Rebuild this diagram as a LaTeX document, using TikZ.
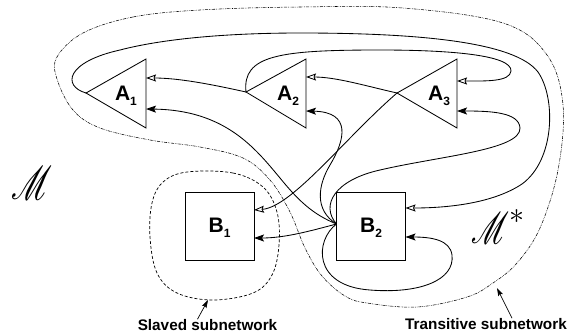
\documentclass[tikz,border=0pt]{standalone}
\usepackage{fontspec}
\setmainfont{Liberation Sans}
\usepackage{mathrsfs}
\usepackage{graphicx}
\usetikzlibrary{arrows.meta}
\begin{document}
\begin{tikzpicture}[x=1pt,y=-1pt,
  edge/.style={line width=0.85pt},
  hol/.style={edge,-{Stealth[open,length=10pt,width=7pt,inset=1.5pt]}},
  fil/.style={edge,-{Stealth[length=10pt,width=7pt,inset=2pt]}},
  shp/.style={line width=0.85pt},
  boxnode/.style={draw,line width=0.85pt,minimum width=69pt,minimum height=68pt,inner sep=0pt},
  lab/.style={font=\fontsize{21}{21}\selectfont\bfseries,inner sep=0pt},
  captext/.style={font=\fontsize{15.3}{16}\selectfont\bfseries,inner sep=0pt},
  transreg/.style={line width=0.55pt,dash pattern=on 3pt off 1pt on 0.6pt off 1pt on 0.6pt off 1pt},
  slavreg/.style={line width=0.7pt,dash pattern=on 3pt off 2pt}]
\useasboundingbox (0,0) rectangle (569,335);

% triangles
\coordinate (A1o) at (86,93);  \coordinate (A1t) at (146,59); \coordinate (A1b) at (146,128);
\coordinate (A2o) at (246,92); \coordinate (A2t) at (306,59); \coordinate (A2b) at (306,128);
\coordinate (A3o) at (397,93); \coordinate (A3t) at (457,59); \coordinate (A3b) at (457,128);
\draw[shp] (A1t) -- (A1o) -- (A1b) -- cycle;
\draw[shp] (A2t) -- (A2o) -- (A2b) -- cycle;
\draw[shp] (A3t) -- (A3o) -- (A3b) -- cycle;
\node[lab] (A1) at (126,96) {A\raisebox{-5pt}{\fontsize{12}{12}\selectfont 1}};
\node[lab] (A2) at (288,96) {A\raisebox{-5pt}{\fontsize{12}{12}\selectfont 2}};
\node[lab] (A3) at (439,96) {A\raisebox{-5pt}{\fontsize{12}{12}\selectfont 3}};
\coordinate (A1i1) at (146,78);  \coordinate (A1i2) at (146,109);
\coordinate (A2i1) at (306,77);  \coordinate (A2i2) at (306,111);
\coordinate (A3i1) at (457,81);  \coordinate (A3i2) at (457,111);

% boxes
\node[boxnode] (B1) at (219.5,226) {};
\node[boxnode] (B2) at (371,226) {};
\node[lab] (B1l) at (219.5,228) {B\raisebox{-5pt}{\fontsize{12}{12}\selectfont 1}};
\node[lab] (B2l) at (371,228) {B\raisebox{-5pt}{\fontsize{12}{12}\selectfont 2}};
\coordinate (B1i1) at (254,210); \coordinate (B1i2) at (254,238);
\coordinate (B2i1) at (405.5,208); \coordinate (B2i2) at (405.5,237);
\coordinate (B2o) at (336.5,224);

% regions
\draw[transreg] plot[smooth cycle, tension=0.6] coordinates {
 (200,10) (133,17) (83,33) (57,57) (57,79) (73,110) (100,128) (150,140) (200,147)
 (243,158) (270,180) (290,212) (305,248) (322,276) (345,296) (367,303) (417,307)
 (467,297) (493,283) (517,263) (540,228) (558,170) (563,105) (547,55) (503,23)
 (403,8) (300,7)};
\draw[slavreg] plot[smooth cycle, tension=0.6] coordinates {
 (187,172) (233,173) (263,187) (277,212) (279,245) (272,275) (253,293) (213,300)
 (177,293) (157,273) (150,237) (152,203) (163,182)};

% edges from A outputs
\draw[hol] (A2o) .. controls (210,84) and (178,78) .. (A1i1);
\draw[hol] (A3o) .. controls (366,86) and (336,77) .. (A2i1);
\draw[hol] (A3o) .. controls (345,138) and (292,207) .. (B1i1);
\draw[hol] (A2o) .. controls (242,55) and (280,50) .. (380,50)
   .. controls (450,50) and (512,55) .. (511,71)
   .. controls (510,82) and (485,81) .. (A3i1);
\draw[hol] (A1o) .. controls (62,86) and (66,62) .. (120,50)
   .. controls (170,37) and (240,33) .. (300,33)
   .. controls (420,33) and (515,42) .. (538,72)
   .. controls (556,98) and (555,160) .. (522,184)
   .. controls (492,204) and (445,208) .. (B2i1);

% edges from B2 output
\draw[fil] (B2o) .. controls (312,214) and (298,200) .. (280,178)
   .. controls (255,148) and (225,110) .. (A1i2);
\draw[fil] (B2o) .. controls (310,231) and (285,238) .. (B1i2);
\draw[fil] (B2o) .. controls (314,210) and (318,185) .. (330,165)
   .. controls (345,140) and (352,112) .. (A2i2);
\draw[fil] (B2o) .. controls (320,205) and (335,180) .. (380,170)
   .. controls (440,156) and (521,150) .. (520,128)
   .. controls (519,112) and (490,111) .. (A3i2);
\draw[fil] (B2o) .. controls (315,240) and (312,286) .. (370,290)
   .. controls (420,294) and (455,280) .. (452,255)
   .. controls (450,240) and (432,237) .. (B2i2);

% script labels
\node[inner sep=0pt] (M) at (32,183) {\resizebox{41pt}{33pt}{$\mathscr{M}$}};
\node[inner sep=0pt,anchor=west] (Ms) at (471,227) {\resizebox{38pt}{31pt}{$\mathscr{M}$}\raisebox{20pt}{\resizebox{15pt}{!}{$\ast$}}};

% captions
\node[captext] (slav) at (207.5,325) {Slaved subnetwork};
\node[captext] (trans) at (486,324) {Transitive subnetwork};
\coordinate (slavtip) at (208,300);
\coordinate (transtip) at (497,288);
\draw[line width=0.7pt,-{Stealth[length=8pt,width=5pt,inset=1.5pt]}] ([xshift=-10pt]slav.north) -- (slavtip);
\draw[line width=0.7pt,-{Stealth[length=8pt,width=5pt,inset=1.5pt]}] ([xshift=26pt]trans.north) -- (transtip);
\end{tikzpicture}
\end{document}
